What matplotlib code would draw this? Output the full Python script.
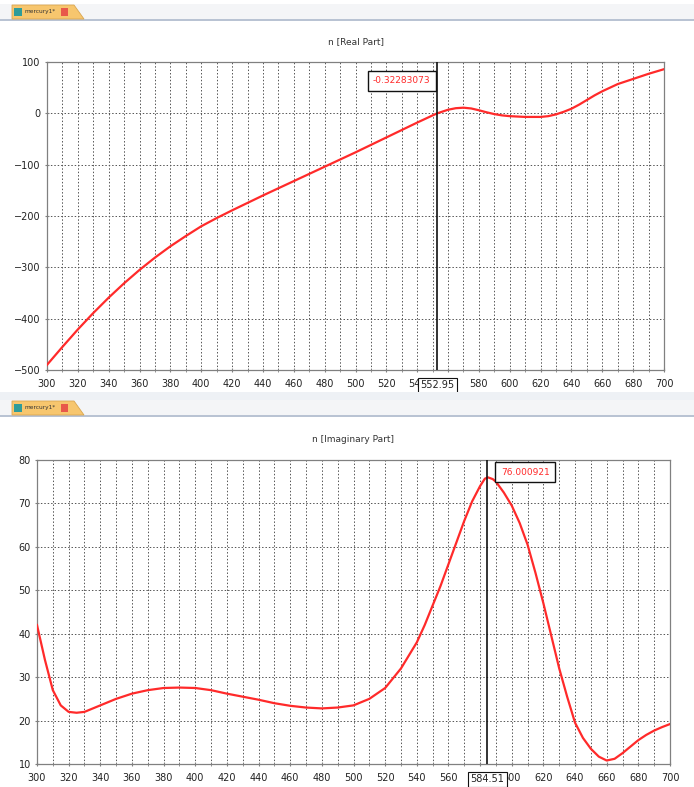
import numpy as np
import matplotlib
matplotlib.use("Agg")
import matplotlib.pyplot as plt
from matplotlib.patches import Rectangle, Polygon
from matplotlib.ticker import MultipleLocator, FuncFormatter

# Real part of refractive index n
wl_re = [300, 310, 320, 330, 340, 350, 360, 370, 380, 390, 400, 410, 420,
         440, 460, 480, 500, 520, 540, 550, 553, 560, 565, 570, 575, 580,
         585, 590, 595, 600, 610, 620, 625, 630, 635, 640, 645, 650, 655,
         660, 665, 670, 680, 690, 700]
n_re = [-490, -455, -421, -389, -359, -331, -305, -281, -259, -239, -220, -204, -189,
        -160, -132, -104, -76, -47, -18, -4, 0, 7, 10, 11, 9.5, 6,
        2, -1.5, -4, -5.5, -7, -7, -5.5, -2, 3, 9, 17, 26, 35,
        43, 50, 57, 67, 77, 86]

# Imaginary part of refractive index n
wl_im = [300, 305, 310, 315, 320, 325, 330, 340, 350, 360, 370, 380, 390, 400,
         410, 420, 430, 440, 450, 460, 470, 480, 490, 500, 510, 520, 530, 540,
         545, 550, 555, 560, 565, 570, 575, 580, 583, 585, 588, 590, 595, 600,
         605, 610, 615, 620, 625, 630, 635, 640, 645, 650, 655, 660, 665, 670,
         675, 680, 685, 690, 695, 700]
n_im = [42, 34, 27, 23.5, 22, 21.8, 22, 23.5, 25, 26.2, 27, 27.5, 27.6, 27.5,
        27, 26.2, 25.5, 24.8, 24, 23.4, 23, 22.8, 23, 23.5, 25, 27.5, 32, 38,
        42, 46.5, 51, 56, 61, 66, 70.5, 74, 75.7, 76, 75.6, 75, 72.5, 69.5,
        65.5, 60.5, 54, 47, 39.5, 32, 25.5, 19.5, 16, 13.5, 11.7, 10.8, 11.2, 12.5,
        14, 15.5, 16.7, 17.7, 18.5, 19.2]

# Cursor read-outs
cur_re_x, cur_re_val = 552.95, -0.32283073
cur_im_x, cur_im_val = 584.51, 76.000921

W, H = 694, 787
fig = plt.figure(figsize=(W / 100, H / 100), dpi=100)
fig.patch.set_facecolor("white")


def fx(x):
    return x / W


def fy(y):
    return 1 - y / H


def rect(x0, y0, x1, y1, **kw):
    fig.add_artist(Rectangle((fx(x0), fy(y1)), fx(x1 - x0), (y1 - y0) / H,
                             transform=fig.transFigure, **kw))


def tab(y0):
    # window tab strip
    rect(0, y0, W, y0 + 15, facecolor="#f4f5f7", edgecolor="none")
    rect(0, y0 + 15, W, y0 + 17, facecolor="#b9c3d3", edgecolor="none")
    pts = [(fx(12), fy(y0 + 15)), (fx(12), fy(y0 + 1)), (fx(74), fy(y0 + 1)),
           (fx(84), fy(y0 + 15))]
    fig.add_artist(Polygon(pts, closed=True, transform=fig.transFigure,
                           facecolor="#f7c66e", edgecolor="#d9a650", lw=0.6))
    rect(14, y0 + 4, 22, y0 + 12, facecolor="#2f9c9a", edgecolor="none")
    rect(61, y0 + 4, 68, y0 + 12, facecolor="#e8584a", edgecolor="none")
    fig.text(fx(24), fy(y0 + 8), "mercury1*", fontsize=4.2, color="#333333",
             va="center", ha="left")


tab(4)
rect(0, 392, W, 402, facecolor="#eef1f5", edgecolor="none")
tab(400)

line_color = "#ff2a2a"
grid_kw = dict(color="#555555", linestyle=(0, (1.5, 2.0)), linewidth=0.7)


def style_axes(ax, ymin, ymax, ystep, title, hidden_x):
    ax.set_xlim(300, 700)
    ax.set_ylim(ymin, ymax)
    ax.xaxis.set_major_locator(MultipleLocator(20))
    ax.xaxis.set_minor_locator(MultipleLocator(10))
    ax.yaxis.set_major_locator(MultipleLocator(ystep))
    # the tick label sitting under the cursor box is not shown
    ax.xaxis.set_major_formatter(
        FuncFormatter(lambda v, p: "" if abs(v - hidden_x) < 1e-6 else f"{v:.0f}"))
    ax.grid(True, which="both", axis="x", **grid_kw)
    ax.grid(True, which="major", axis="y", **grid_kw)
    for s in ax.spines.values():
        s.set_color("#808080")
        s.set_linewidth(0.9)
    ax.tick_params(axis="both", which="major", labelsize=7, colors="#808080",
                   labelcolor="#222222", length=3, direction="inout")
    ax.tick_params(axis="x", which="major", pad=5)
    ax.tick_params(axis="y", which="major", pad=3)
    ax.tick_params(axis="x", which="minor", length=3, direction="inout",
                   colors="#808080")
    ax.set_title(title, fontsize=6.5, color="#333333", pad=13)
    ax.set_axisbelow(True)


def readout(ax, x, val_text, tx, ty, xtext):
    ax.axvline(x, color="#111111", lw=1.2, zorder=4)
    ax.text(tx, ty, val_text, fontsize=6.5, color="#ff2a2a", ha="center",
            va="center", zorder=5,
            bbox=dict(boxstyle="square,pad=0.6", fc="white", ec="#111111", lw=1.0))
    ax.annotate(xtext, xy=(x, 0), xycoords=("data", "axes fraction"),
                xytext=(0, -11), textcoords="offset points", ha="center",
                va="center", fontsize=7, color="#222222", zorder=6,
                annotation_clip=False,
                bbox=dict(boxstyle="square,pad=0.25", fc="white", ec="#111111", lw=0.8))


# Real part panel
ax1 = fig.add_axes([fx(47), fy(370), fx(664 - 47), (370 - 62) / H])
ax1.plot(wl_re, n_re, color=line_color, lw=1.6, zorder=3)
style_axes(ax1, -500, 100, 100, "n [Real Part]", 560)
readout(ax1, cur_re_x, f"{cur_re_val:.8f}", 530, 63, f"{cur_re_x:.2f}")

# Imaginary part panel
ax2 = fig.add_axes([fx(37), fy(764), fx(670 - 37), (764 - 460) / H])
ax2.plot(wl_im, n_im, color=line_color, lw=1.6, zorder=3)
style_axes(ax2, 10, 80, 10, "n [Imaginary Part]", 580)
readout(ax2, cur_im_x, f"{cur_im_val:.6f}", 608.5, 77.2, f"{cur_im_x:.2f}")

fig.savefig("out.png", dpi=100, facecolor="white")
